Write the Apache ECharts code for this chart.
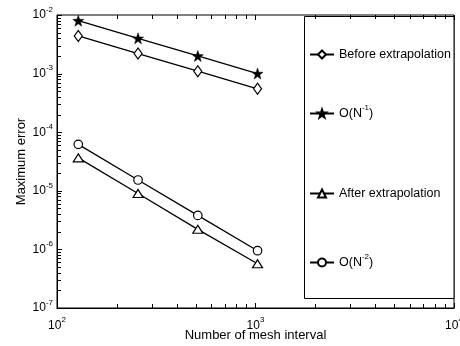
<!DOCTYPE html>
<html>
<head>
<meta charset="utf-8">
<script src="https://cdn.jsdelivr.net/npm/echarts@6/dist/echarts.min.js"></script>
<style>html,body{margin:0;padding:0;background:#fff}#c{width:460px;height:346px}</style>
</head>
<body>
<div id="c"></div>
<script>
// ---- data ----
const meshN = [128, 256, 512, 1024];
const beforeExtrap = [4.4e-3, 2.2e-3, 1.1e-3, 5.5e-4];
const orderN1 = [8e-3, 4e-3, 2e-3, 1e-3];
const afterExtrap = [3.65e-5, 9.0e-6, 2.2e-6, 5.7e-7];
const orderN2 = [6.2e-5, 1.53e-5, 3.8e-6, 9.5e-7];
const seriesNames = ['Before extrapolation', 'O(N^-1)', 'After extrapolation', 'O(N^-2)'];
const xRange = [100, 10000];
const yRange = [1e-7, 1e-2];

// axis tick values (decades and their 2..9 multiples)
function logTicks(lo, hi) {
  const out = [];
  for (let e = Math.round(Math.log10(lo)); e < Math.round(Math.log10(hi)); e++) {
    for (let m = 1; m <= 9; m++) out.push([m * Math.pow(10, e), m === 1 ? 1 : 0]);
  }
  out.push([hi, 1]);
  return out;
}
const xTicks = logTicks(xRange[0], xRange[1]);
const yTicks = logTicks(yRange[0], yRange[1]);

const FONT = 'Liberation Sans, Arial, Helvetica, sans-serif';
const supRich = { sup: { fontSize: 8, fontFamily: FONT, color: '#000', padding: [0, 0, 11, 0] } };
function powLabel(v) { return '10{sup|' + Math.round(Math.log10(v)) + '}'; }
function legendFmt(name) { return name.replace(/\^(-?\d+)/, '{sup|$1}'); }

const chart = echarts.init(document.getElementById('c'), null, { renderer: 'canvas' });
const starPath = 'path://M50,0 L61.8,33.8 L97.6,34.5 L69,56.2 L79.4,90.5 L50,70 L20.6,90.5 L31,56.2 L2.4,34.5 L38.2,33.8 Z';
const hollow = { color: '#fff', borderColor: '#000', borderWidth: 1.2 };
function lineSeries(name, ys, symbol, size, itemStyle) {
  return { name: name, type: 'line', z: 3, data: meshN.map((x, i) => [x, ys[i]]),
    symbol: symbol, symbolSize: size, showAllSymbol: true,
    lineStyle: { color: '#000', width: 1.3 }, itemStyle: itemStyle, emphasis: { disabled: true }, animation: false };
}
const legendTops = [48, 104, 187, 253];
chart.setOption({
  animation: false, backgroundColor: '#fff', textStyle: { fontFamily: FONT },
  grid: { left: 57, right: 6, top: 15, bottom: 38, show: true, borderColor: '#000', borderWidth: 1, containLabel: false, outerBoundsMode: 'none' },
  xAxis: { type: 'log', logBase: 10, min: xRange[0], max: xRange[1],
    name: 'Number of mesh interval', nameLocation: 'middle', nameGap: 21, nameMoveOverlap: false,
    nameTextStyle: { fontSize: 13, color: '#000', fontFamily: FONT },
    axisLine: { show: true, lineStyle: { color: '#000', width: 1 } }, axisTick: { show: false }, splitLine: { show: false },
    axisLabel: { color: '#000', fontSize: 12, fontFamily: FONT, margin: 8, formatter: powLabel, rich: supRich, showMaxLabel: true, showMinLabel: true, hideOverlap: false } },
  yAxis: { type: 'log', logBase: 10, min: yRange[0], max: yRange[1],
    name: 'Maximum error', nameLocation: 'middle', nameGap: 29, nameRotate: 90, nameMoveOverlap: false,
    nameTextStyle: { fontSize: 13, color: '#000', fontFamily: FONT },
    axisLine: { show: true, lineStyle: { color: '#000', width: 1 } }, axisTick: { show: false }, splitLine: { show: false },
    axisLabel: { color: '#000', fontSize: 12, fontFamily: FONT, margin: 4, formatter: powLabel, rich: supRich, showMaxLabel: true, showMinLabel: true } },
  legend: seriesNames.map((n, i) => ({ data: [n], left: 309, top: legendTops[i], orient: 'vertical', z: 100, padding: 0,
    itemWidth: 24, itemHeight: 10, selectedMode: false, formatter: legendFmt,
    textStyle: { fontSize: 12.5, color: '#000', fontFamily: FONT, rich: supRich } })),
  series: [
    lineSeries(seriesNames[0], beforeExtrap, 'diamond', [8, 11], hollow),
    lineSeries(seriesNames[1], orderN1, starPath, 11, { color: '#000', borderColor: '#000', borderWidth: 0.5 }),
    lineSeries(seriesNames[2], afterExtrap, 'triangle', [10, 8], hollow),
    lineSeries(seriesNames[3], orderN2, 'circle', 8.5, hollow)
  ]
});

// inward ticks on all four sides (positions from the axis log scales) and the legend box
const toPx = v => chart.convertToPixel({ xAxisIndex: 0, yAxisIndex: 0 }, v);
const bl = toPx([xRange[0], yRange[0]]), tr = toPx([xRange[1], yRange[1]]);
const L = Math.round(bl[0]), B = Math.round(bl[1]), R = Math.round(tr[0]), T = Math.round(tr[1]);
const boxBottom = 298;
const els = [];
xTicks.forEach(t => {
  const x = Math.round(toPx([t[0], yRange[0]])[0]), len = t[1] ? 5 : 4;
  els.push({ type: 'rect', z: 50, shape: { x: x, y: B - len, width: 1, height: len }, style: { fill: '#000' } });
  els.push({ type: 'rect', z: 50, shape: { x: x, y: T, width: 1, height: len }, style: { fill: '#000' } });
});
yTicks.forEach(t => {
  const y = Math.round(toPx([xRange[0], t[0]])[1]), len = t[1] ? 5 : 4;
  els.push({ type: 'rect', z: 50, shape: { x: L, y: y, width: len, height: 1 }, style: { fill: '#000' } });
  if (y > boxBottom) {
    els.push({ type: 'rect', z: 50, shape: { x: R - len, y: y, width: len, height: 1 }, style: { fill: '#000' } });
  }
});
els.push({ type: 'rect', z: 10,
  shape: { x: 304.5, y: T + 1.5, width: R - 304.5, height: boxBottom + 0.5 - (T + 1.5) },
  style: { fill: '#fff', stroke: '#000', lineWidth: 1 } });
chart.setOption({ graphic: els });
</script>
</body>
</html>
